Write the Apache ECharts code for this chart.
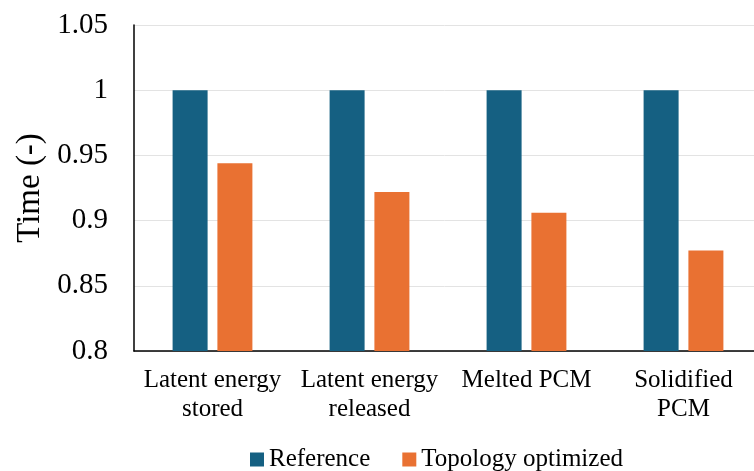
<!DOCTYPE html>
<html>
<head>
<meta charset="utf-8">
<script src="https://cdn.jsdelivr.net/npm/echarts@6/dist/echarts.min.js"></script>
<style>
  html, body { margin: 0; padding: 0; background: #fff; }
  #chart { width: 754px; height: 471px; }
</style>
</head>
<body>
<div id="chart"></div>
<script>
// 数据
var categories = ['Latent energy\nstored', 'Latent energy\nreleased', 'Melted PCM', 'Solidified\nPCM'];
var referenceValues = [1, 1, 1, 1];
var optimizedValues = [0.944, 0.922, 0.906, 0.877];
var seriesNames = ['Reference', 'Topology optimized'];

var font = '"Liberation Serif", "Times New Roman", serif';

var chart = echarts.init(document.getElementById('chart'));
var option = {
    animation: false,
    textStyle: { fontFamily: font, color: '#000' },
    // 右侧超出画布一点，和原图一致
    grid: { left: 134, width: 628, top: 25, height: 326, outerBoundsMode: 'none' },
    legend: {
        top: 447,
        left: 250,
        padding: 0,
        itemWidth: 14,
        itemHeight: 14,
        itemGap: 32,
        icon: 'rect',
        textStyle: { fontFamily: font, fontSize: 25, color: '#000' },
        data: seriesNames
    },
    xAxis: {
        type: 'category',
        data: categories,
        axisLine: { lineStyle: { color: '#000', width: 1.5 } },
        axisTick: { show: false },
        axisLabel: {
            interval: 0,
            margin: 15,
            fontFamily: font,
            fontSize: 25,
            lineHeight: 29,
            color: '#000'
        }
    },
    yAxis: {
        type: 'value',
        min: 0.8,
        max: 1.05,
        interval: 0.05,
        name: 'Time (-)',
        nameLocation: 'middle',
        nameGap: 86,
        nameTextStyle: { fontFamily: font, fontSize: 33, color: '#000' },
        axisLine: { show: true, lineStyle: { color: '#000', width: 1.5 } },
        axisTick: { show: false },
        splitLine: { lineStyle: { color: '#e3e3e3', width: 1 } },
        axisLabel: {
            margin: 26,
            fontFamily: font,
            fontSize: 29,
            color: '#000',
            formatter: function (v) { return String(+v.toFixed(2)); }
        }
    },
    series: [
        {
            name: seriesNames[0],
            type: 'bar',
            data: referenceValues,
            barWidth: 35,
            barGap: '28%',
            itemStyle: { color: '#156082' }
        },
        {
            name: seriesNames[1],
            type: 'bar',
            data: optimizedValues,
            barWidth: 35,
            itemStyle: { color: '#E97132' }
        }
    ]
};
chart.setOption(option);
</script>
</body>
</html>
